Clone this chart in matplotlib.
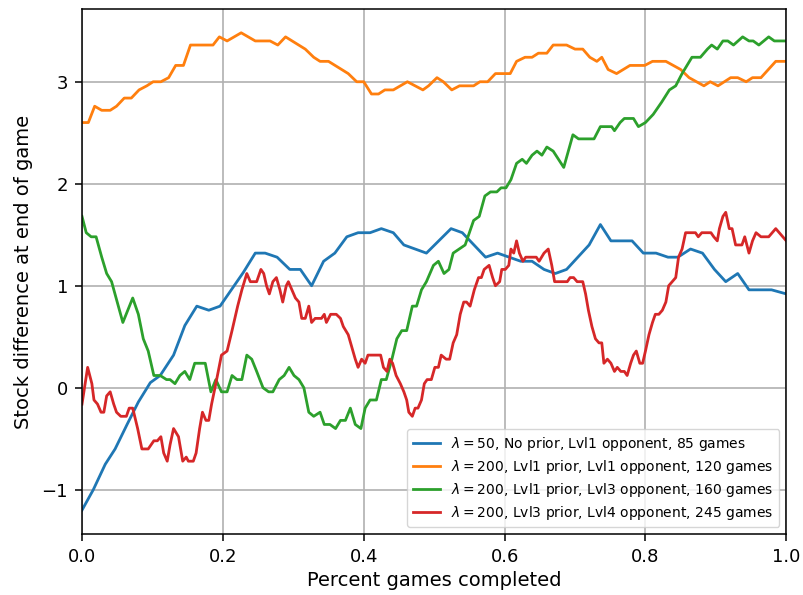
import numpy as np
import matplotlib.pyplot as plt

# running stock difference vs fraction of games played, one run per setup
blue_x = [0.0, 0.016, 0.033, 0.047, 0.064, 0.080, 0.097, 0.111, 0.130, 0.146, 0.163, 0.180, 0.196,
          0.229, 0.246, 0.260, 0.277, 0.295, 0.310, 0.326, 0.343, 0.359, 0.376, 0.392, 0.409, 0.425,
          0.442, 0.457, 0.489, 0.524, 0.540, 0.573, 0.590, 0.623, 0.639, 0.656, 0.672, 0.688, 0.720,
          0.736, 0.751, 0.781, 0.797, 0.815, 0.832, 0.846, 0.864, 0.881, 0.898, 0.914, 0.931, 0.947,
          0.979, 1.0]
blue_y = [-1.20, -1.00, -0.75, -0.60, -0.36, -0.14, 0.05, 0.12, 0.32, 0.61, 0.80, 0.76, 0.80,
          1.13, 1.32, 1.32, 1.28, 1.16, 1.16, 1.00, 1.24, 1.32, 1.48, 1.52, 1.52, 1.56,
          1.52, 1.40, 1.32, 1.56, 1.52, 1.28, 1.32, 1.24, 1.24, 1.16, 1.12, 1.16, 1.40,
          1.60, 1.44, 1.44, 1.32, 1.32, 1.28, 1.28, 1.36, 1.32, 1.16, 1.04, 1.12, 0.96,
          0.96, 0.92]

orange_x = [0.0, 0.009, 0.018, 0.028, 0.040, 0.049, 0.060, 0.070, 0.081, 0.092, 0.101, 0.112, 0.123,
            0.133, 0.144, 0.154, 0.186, 0.195, 0.206, 0.226, 0.246, 0.267, 0.278, 0.289, 0.317,
            0.329, 0.338, 0.350, 0.378, 0.390, 0.400, 0.411, 0.421, 0.430, 0.442, 0.462, 0.484,
            0.492, 0.504, 0.513, 0.525, 0.536, 0.556, 0.565, 0.576, 0.587, 0.608, 0.617, 0.629,
            0.639, 0.648, 0.660, 0.669, 0.688, 0.700, 0.711, 0.721, 0.731, 0.738, 0.747, 0.759,
            0.778, 0.799, 0.810, 0.829, 0.850, 0.862, 0.883, 0.892, 0.903, 0.921, 0.931, 0.943,
            0.952, 0.964, 0.985, 1.0]
orange_y = [2.60, 2.60, 2.76, 2.72, 2.72, 2.76, 2.84, 2.84, 2.92, 2.96, 3.00, 3.00, 3.04,
            3.16, 3.16, 3.36, 3.36, 3.44, 3.40, 3.48, 3.40, 3.40, 3.36, 3.44, 3.32,
            3.24, 3.20, 3.20, 3.08, 3.00, 3.00, 2.88, 2.88, 2.92, 2.92, 3.00, 2.92,
            2.96, 3.04, 3.00, 2.92, 2.96, 2.96, 3.00, 3.00, 3.08, 3.08, 3.20, 3.24,
            3.24, 3.28, 3.28, 3.36, 3.36, 3.32, 3.32, 3.24, 3.20, 3.24, 3.12, 3.08,
            3.16, 3.16, 3.20, 3.20, 3.12, 3.04, 2.96, 3.00, 2.96, 3.04, 3.04, 3.00,
            3.04, 3.04, 3.20, 3.20]

green_x = [0.0, 0.006, 0.013, 0.020, 0.028, 0.035, 0.042, 0.058, 0.072, 0.080, 0.087, 0.094, 0.102,
           0.111, 0.120, 0.125, 0.132, 0.139, 0.146, 0.153, 0.160, 0.175, 0.183, 0.190, 0.198,
           0.206, 0.213, 0.220, 0.227, 0.234, 0.241, 0.248, 0.257, 0.265, 0.271, 0.280, 0.287,
           0.294, 0.301, 0.308, 0.315, 0.322, 0.329, 0.338, 0.344, 0.352, 0.360, 0.367, 0.374,
           0.381, 0.388, 0.396, 0.402, 0.409, 0.418, 0.425, 0.432, 0.440, 0.447, 0.454, 0.461,
           0.469, 0.475, 0.482, 0.489, 0.499, 0.506, 0.514, 0.521, 0.527, 0.544, 0.556, 0.564,
           0.572, 0.580, 0.589, 0.595, 0.602, 0.609, 0.617, 0.625, 0.631, 0.639, 0.646, 0.653,
           0.660, 0.669, 0.684, 0.697, 0.705, 0.727, 0.736, 0.752, 0.756, 0.764, 0.770, 0.783,
           0.790, 0.800, 0.811, 0.823, 0.834, 0.843, 0.852, 0.866, 0.878, 0.888, 0.894, 0.902,
           0.910, 0.917, 0.925, 0.938, 0.947, 0.953, 0.961, 0.975, 0.983, 1.0]
green_y = [1.68, 1.52, 1.48, 1.48, 1.28, 1.12, 1.04, 0.64, 0.88, 0.72, 0.48, 0.36, 0.12,
           0.12, 0.08, 0.08, 0.04, 0.12, 0.16, 0.08, 0.24, 0.24, -0.04, 0.08, -0.04,
           -0.04, 0.12, 0.08, 0.08, 0.32, 0.28, 0.16, 0.00, -0.04, -0.04, 0.08, 0.12,
           0.20, 0.12, 0.08, 0.00, -0.24, -0.28, -0.24, -0.36, -0.36, -0.40, -0.32, -0.32,
           -0.20, -0.36, -0.40, -0.20, -0.12, -0.12, 0.08, 0.08, 0.28, 0.48, 0.56, 0.56,
           0.80, 0.80, 0.96, 1.04, 1.20, 1.24, 1.12, 1.16, 1.32, 1.40, 1.64, 1.68,
           1.88, 1.92, 1.92, 1.96, 1.96, 2.04, 2.20, 2.24, 2.20, 2.28, 2.32, 2.28,
           2.36, 2.32, 2.16, 2.48, 2.44, 2.44, 2.56, 2.56, 2.52, 2.60, 2.64, 2.64,
           2.56, 2.60, 2.68, 2.80, 2.92, 2.96, 3.08, 3.24, 3.24, 3.32, 3.36, 3.32,
           3.40, 3.40, 3.36, 3.44, 3.40, 3.40, 3.36, 3.44, 3.40, 3.40]

red_x = [0.0, 0.008, 0.014, 0.017, 0.022, 0.027, 0.031, 0.035, 0.040, 0.045, 0.049, 0.055, 0.063,
         0.067, 0.072, 0.079, 0.085, 0.094, 0.102, 0.107, 0.112, 0.116, 0.121, 0.125, 0.130,
         0.137, 0.139, 0.143, 0.148, 0.151, 0.158, 0.162, 0.167, 0.171, 0.176, 0.180, 0.184,
         0.190, 0.198, 0.206, 0.213, 0.221, 0.227, 0.234, 0.239, 0.248, 0.254, 0.258, 0.262,
         0.266, 0.271, 0.276, 0.281, 0.285, 0.290, 0.293, 0.298, 0.303, 0.308, 0.312, 0.317,
         0.322, 0.326, 0.331, 0.336, 0.340, 0.344, 0.347, 0.353, 0.361, 0.367, 0.371, 0.378,
         0.383, 0.388, 0.392, 0.397, 0.402, 0.406, 0.424, 0.428, 0.433, 0.437, 0.441, 0.446,
         0.452, 0.457, 0.461, 0.464, 0.469, 0.473, 0.477, 0.482, 0.486, 0.490, 0.496, 0.501,
         0.506, 0.510, 0.517, 0.522, 0.527, 0.532, 0.537, 0.542, 0.546, 0.551, 0.557, 0.563,
         0.567, 0.571, 0.578, 0.583, 0.587, 0.593, 0.596, 0.601, 0.606, 0.609, 0.613, 0.617,
         0.621, 0.626, 0.630, 0.645, 0.649, 0.656, 0.662, 0.667, 0.671, 0.689, 0.693, 0.698,
         0.703, 0.711, 0.715, 0.719, 0.724, 0.729, 0.734, 0.738, 0.741, 0.746, 0.751, 0.756,
         0.760, 0.765, 0.770, 0.774, 0.779, 0.783, 0.787, 0.792, 0.796, 0.800, 0.805, 0.810,
         0.814, 0.819, 0.824, 0.829, 0.833, 0.838, 0.843, 0.847, 0.852, 0.857, 0.871, 0.875,
         0.880, 0.893, 0.897, 0.902, 0.905, 0.910, 0.914, 0.919, 0.923, 0.928, 0.937, 0.941,
         0.947, 0.952, 0.957, 0.964, 0.975, 0.985, 1.0]
red_y = [-0.16, 0.20, 0.04, -0.12, -0.16, -0.24, -0.24, -0.08, -0.04, -0.16, -0.24, -0.28, -0.28,
         -0.20, -0.20, -0.40, -0.60, -0.60, -0.52, -0.52, -0.48, -0.64, -0.72, -0.56, -0.40,
         -0.48, -0.56, -0.72, -0.68, -0.72, -0.72, -0.64, -0.40, -0.24, -0.32, -0.32, -0.16,
         0.04, 0.32, 0.36, 0.56, 0.80, 0.96, 1.12, 1.04, 1.04, 1.16, 1.12, 1.00,
         0.92, 1.04, 1.08, 0.96, 0.84, 1.00, 1.04, 0.96, 0.88, 0.84, 0.68, 0.68,
         0.80, 0.64, 0.68, 0.68, 0.68, 0.72, 0.64, 0.72, 0.72, 0.68, 0.60, 0.52,
         0.40, 0.28, 0.20, 0.28, 0.24, 0.32, 0.32, 0.20, 0.16, 0.28, 0.24, 0.12,
         0.04, -0.04, -0.12, -0.24, -0.28, -0.20, -0.20, -0.12, 0.04, 0.08, 0.08, 0.20,
         0.20, 0.32, 0.28, 0.28, 0.44, 0.52, 0.72, 0.84, 0.84, 0.80, 0.96, 1.08,
         1.08, 1.16, 1.20, 1.08, 1.00, 1.04, 1.16, 1.16, 1.20, 1.36, 1.32, 1.44,
         1.32, 1.24, 1.28, 1.28, 1.24, 1.32, 1.36, 1.20, 1.04, 1.04, 1.08, 1.08,
         1.04, 1.04, 0.92, 0.76, 0.60, 0.48, 0.44, 0.44, 0.24, 0.28, 0.24, 0.16,
         0.20, 0.16, 0.16, 0.12, 0.24, 0.32, 0.36, 0.24, 0.24, 0.36, 0.52, 0.64,
         0.72, 0.72, 0.76, 0.84, 1.00, 1.04, 1.08, 1.28, 1.36, 1.52, 1.52, 1.48,
         1.52, 1.52, 1.48, 1.44, 1.56, 1.68, 1.72, 1.56, 1.56, 1.40, 1.40, 1.48,
         1.32, 1.44, 1.52, 1.48, 1.48, 1.56, 1.44]

labels = [r'$\lambda=50$, No prior, Lvl1 opponent, 85 games',
          r'$\lambda=200$, Lvl1 prior, Lvl1 opponent, 120 games',
          r'$\lambda=200$, Lvl1 prior, Lvl3 opponent, 160 games',
          r'$\lambda=200$, Lvl3 prior, Lvl4 opponent, 245 games']

fig = plt.figure(figsize=(8.04, 5.95), dpi=100)
ax = fig.add_axes([0.102, 0.1025, 0.876, 0.8825])

ax.plot(blue_x, blue_y, color='C0', linewidth=2.0, label=labels[0])
ax.plot(orange_x, orange_y, color='C1', linewidth=2.0, label=labels[1])
ax.plot(green_x, green_y, color='C2', linewidth=2.0, label=labels[2])
ax.plot(red_x, red_y, color='C3', linewidth=2.0, label=labels[3])

ax.set_xlim(0, 1)
ax.grid(True, linewidth=1.2)
ax.tick_params(labelsize=13, length=5, width=1.1, pad=5)
for s in ax.spines.values():
    s.set_linewidth(1.1)
ax.set_xlabel('Percent games completed', fontsize=14, labelpad=4)
ax.set_ylabel('Stock difference at end of game', fontsize=14, labelpad=6)
ax.legend(loc='lower right', fontsize=10, labelspacing=0.35)

fig.savefig('out.png', dpi=100)
